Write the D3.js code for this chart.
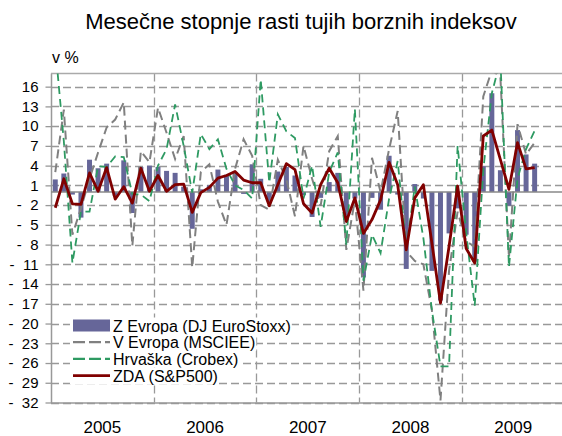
<!DOCTYPE html>
<html>
<head>
<meta charset="utf-8">
<script src="https://cdn.jsdelivr.net/npm/d3@7"></script>
<style>
  body { margin: 0; background: #fff; }
  svg { display: block; font-family: "Liberation Sans", Arial, sans-serif; }
</style>
</head>
<body>
<div class="chart"></div>
<script>
// categories
var years = ["2005", "2006", "2007", "2008", "2009"];
var months = years.flatMap(function (y) { return d3.range(1, 13).map(function (m) { return y + "-" + m; }); });
var yTicks = d3.range(-32, 17, 3);

// monthly growth rates in %, Jan 2005 - Sep 2009
var euroStoxx = [1.9, 2.8, -0.4, -3.9, 4.9, 3.6, 4.3, -0.6, 4.8, -3.2, 3.8, 4.0,
                 3.8, 3.2, 2.9, 0.8, -5.6, 0.4, 1.0, 3.4, 2.6, 3.0, -0.3, 4.2,
                 2.0, -1.5, 3.1, 3.8, 2.5, -0.5, -3.8, -0.9, 1.5, 2.9, -4.3, -1.0,
                 -13.0, -0.9, -2.7, 5.5, -0.4, -11.7, 1.2, -1.0, -12.0, -16.5, -6.3, -2.5,
                 -6.5, -10.6, 3.9, 15.0, 3.3, -2.1, 9.4, 5.7, 4.3];
var msciee = [3.0, 12.5, -6.5, -2.5, 2.0, 6.0, 9.8, 11.0, 13.6, -8.2, 6.2, 4.5,
              12.8, 9.0, 5.0, 8.5, -11.5, 3.0, 4.2, -1.5, -5.0, 3.5, 8.0, 5.5,
              -2.0, -2.7, 4.9, 1.9, -3.7, 7.0, 2.0, -2.1, 6.2, 8.5, -8.8, -1.2,
              -15.0, 5.2, 0.0, 6.5, 12.3, -9.0, -10.5, -11.0, -18.0, -31.7, -12.0, -3.0,
              -7.5, -8.3, 14.5, 18.5, 17.5, -10.0, 10.3, 5.7, 7.5];
var crobex = [22.0, 7.7, -10.8, -3.0, -3.0, 3.9, 3.8, 5.4, 5.3, -0.3, -0.4, -1.4,
              4.0, 6.5, 13.3, 7.0, -0.1, 8.8, 6.5, 8.0, 3.5, 1.0, 0.3, -1.0,
              17.1, 1.4, 11.8, 9.2, 8.2, -1.0, 4.0, -5.3, 3.0, 6.0, -8.0, 12.6,
              -13.5, -6.5, -9.3, -1.0, 4.7, -8.5, 0.8, -7.0, -18.0, -26.5, -26.5, 7.0,
              -6.2, -17.3, 3.4, 15.0, 20.0, -11.4, 2.0, 6.5, 9.3];
var sp500 = [-2.4, 2.0, -1.8, -1.9, 2.9, 0.1, 3.7, -1.1, 0.8, -1.7, 3.6, 0.1,
             2.5, 0.1, 1.1, 1.2, -3.1, -0.1, 0.7, 2.1, 2.5, 3.1, 1.8, 1.4,
             1.4, -2.1, 1.1, 4.3, 3.4, -1.8, -3.2, 1.1, 3.6, 1.4, -4.5, -0.9,
             -6.3, -4.2, -1.2, 4.5, 1.1, -8.8, -0.9, 1.1, -7.8, -16.9, -8.3, 0.9,
             -8.6, -10.8, 8.5, 9.4, 4.9, 0.4, 7.5, 3.5, 3.7];

var seriesNames = ["Z Evropa (DJ EuroStoxx)", "V Evropa (MSCIEE)", "Hrvaška (Crobex)", "ZDA (S&P500)"];

var W = 562, H = 436;
var pLeft = 51, pRight = 564.6, pTop = 73.5, pBottom = 402.5;

var svg = d3.select(".chart").append("svg").attr("width", W).attr("height", H);

var x = d3.scaleBand().domain(months).range([pLeft, pRight]).paddingInner(0.42).paddingOuter(0.21);
var y = d3.scaleLinear().domain([-32, 18]).range([pBottom, pTop]);
var cx = function (i) { return x(months[i]) + x.bandwidth() / 2; };
var edge = function (i) { return x(months[i]) - (x.step() - x.bandwidth()) / 2; };

svg.append("defs").append("clipPath").attr("id", "plot")
  .append("rect").attr("x", pLeft).attr("y", pTop).attr("width", W - pLeft).attr("height", pBottom - pTop);

// title
svg.append("text").attr("x", 301).attr("y", 29).attr("text-anchor", "middle")
  .attr("font-size", 22).attr("fill", "#000")
  .text("Mesečne stopnje rasti tujih borznih indeksov");
svg.append("text").attr("x", 52).attr("y", 63).attr("font-size", 16).text("v %");

// grid
var grid = svg.append("g");
grid.selectAll("line.h").data(yTicks).enter().append("line")
  .attr("x1", pLeft).attr("x2", W)
  .attr("y1", function (d) { return Math.round(y(d)) + 0.5; })
  .attr("y2", function (d) { return Math.round(y(d)) + 0.5; })
  .attr("stroke", "#999").attr("stroke-width", 1.3).attr("stroke-dasharray", "8,4");
grid.selectAll("line.v").data(years.slice(1)).enter().append("line")
  .attr("x1", function (d, i) { return Math.round(edge((i + 1) * 12)) + 0.5; })
  .attr("x2", function (d, i) { return Math.round(edge((i + 1) * 12)) + 0.5; })
  .attr("y1", pTop).attr("y2", pBottom)
  .attr("stroke", "#999").attr("stroke-width", 1.3).attr("stroke-dasharray", "8,4");

// axes
var yAxis = d3.axisLeft(y).tickValues(yTicks).tickSize(6).tickPadding(7)
  .tickFormat(function (d) { return d < 0 ? "-\u00a0\u00a0" + Math.abs(d) : d; });
var ga = svg.append("g").attr("transform", "translate(" + (pLeft + 0.5) + ",0)").call(yAxis);
ga.select(".domain").remove();
ga.selectAll(".tick line").attr("stroke", "#999").attr("stroke-width", 1.3);
ga.selectAll(".tick text").attr("font-size", 15).attr("fill", "#000")
  .attr("font-family", "Liberation Sans, Arial, sans-serif");

svg.append("line").attr("x1", pLeft + 0.5).attr("x2", pLeft + 0.5).attr("y1", pTop).attr("y2", pBottom + 0.5)
  .attr("stroke", "#999").attr("stroke-width", 1.5);
svg.append("line").attr("x1", pLeft).attr("x2", W).attr("y1", pTop).attr("y2", pTop)
  .attr("stroke", "#aaa").attr("stroke-width", 1.5);
svg.append("line").attr("x1", pLeft).attr("x2", W).attr("y1", pBottom + 0.5).attr("y2", pBottom + 0.5)
  .attr("stroke", "#999").attr("stroke-width", 1.5);

svg.selectAll("text.year").data(years).enter().append("text")
  .attr("x", function (d, i) { return edge(i * 12) + 6 * x.step(); })
  .attr("y", 433).attr("text-anchor", "middle").attr("font-size", 17).text(function (d) { return d; });

// data
var plot = svg.append("g").attr("clip-path", "url(#plot)");
plot.selectAll("rect.bar").data(euroStoxx).enter().append("rect")
  .attr("x", function (d, i) { return x(months[i]); })
  .attr("width", x.bandwidth())
  .attr("y", function (d) { return y(Math.max(0, d)); })
  .attr("height", function (d) { return Math.abs(y(d) - y(0)); })
  .attr("fill", "#666699");

plot.append("line").attr("x1", pLeft).attr("x2", W).attr("y1", y(0)).attr("y2", y(0))
  .attr("stroke", "#888").attr("stroke-width", 1.5);

var line = d3.line().x(function (d, i) { return cx(i); }).y(function (d) { return y(d); });
plot.append("path").datum(msciee).attr("d", line).attr("fill", "none")
  .attr("stroke", "#808080").attr("stroke-width", 2).attr("stroke-dasharray", "9,5");
plot.append("path").datum(crobex).attr("d", line).attr("fill", "none")
  .attr("stroke", "#2e9a62").attr("stroke-width", 1.8).attr("stroke-dasharray", "8,5");
plot.append("path").datum(sp500).attr("d", line).attr("fill", "none")
  .attr("stroke", "#800000").attr("stroke-width", 2.8).attr("stroke-linejoin", "round");

// legend
var legend = svg.append("g").attr("font-size", 16);
var rows = legend.selectAll("g").data(seriesNames).enter().append("g")
  .attr("transform", function (d, i) { return "translate(72," + (325.5 + i * 16.7) + ")"; });
rows.append("text").attr("x", 41).attr("y", 6).text(function (d) { return d; });
rows.each(function () {
  var g = d3.select(this), bb = g.select("text").node().getBBox();
  g.insert("rect", "text").attr("x", -2).attr("y", -8).attr("width", bb.x + bb.width + 3).attr("height", 16.7).attr("fill", "#fff");
});
rows.filter(function (d, i) { return i === 0; }).append("rect")
  .attr("x", 1).attr("y", -6).attr("width", 37).attr("height", 12).attr("fill", "#666699");
rows.filter(function (d, i) { return i === 1; }).append("line")
  .attr("x1", 1).attr("x2", 38).attr("stroke", "#808080").attr("stroke-width", 2.3).attr("stroke-dasharray", "12,4");
rows.filter(function (d, i) { return i === 2; }).append("line")
  .attr("x1", 1).attr("x2", 38).attr("stroke", "#2e9a62").attr("stroke-width", 2.3).attr("stroke-dasharray", "12,4");
rows.filter(function (d, i) { return i === 3; }).append("line")
  .attr("x1", 1).attr("x2", 38).attr("stroke", "#800000").attr("stroke-width", 2.8);
</script>
</body>
</html>
